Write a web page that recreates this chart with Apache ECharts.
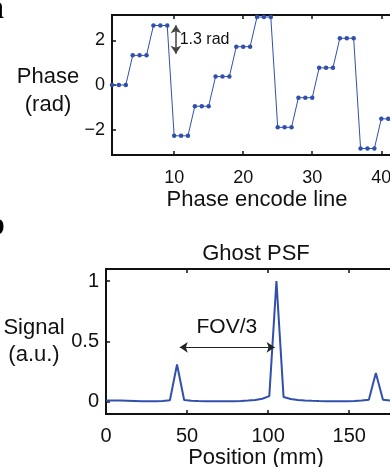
<!DOCTYPE html>
<html>
<head>
<meta charset="utf-8">
<script src="https://cdn.jsdelivr.net/npm/echarts@6/dist/echarts.min.js"></script>
<style>
  html, body { margin: 0; padding: 0; background: #fff; overflow: hidden; }
  #chart { width: 390px; height: 467px; }
</style>
</head>
<body>
<div id="chart"></div>
<script>
// panel a: phase per phase-encode line (3 lines per step, wrapped)
const lineNumbers = [
  1, 2, 3, 4, 5, 6, 7, 8, 9, 10, 11, 12, 13, 14, 15, 16, 17, 18, 19, 20, 21, 22,
  23, 24, 25, 26, 27, 28, 29, 30, 31, 32, 33, 34, 35, 36, 37, 38, 39, 40, 41, 42, 43
];
const phaseValues = [
  0, 0, 0, 1.33, 1.33, 1.33, 2.67, 2.67, 2.67, -2.28, -2.28, -2.28,
  -0.95, -0.95, -0.95, 0.38, 0.38, 0.38, 1.72, 1.72, 1.72, 3.05, 3.05, 3.05,
  -1.9, -1.9, -1.9, -0.57, -0.57, -0.57, 0.77, 0.77, 0.77, 2.1, 2.1, 2.1,
  -2.85, -2.85, -2.85, -1.52, -1.52, -1.52, -0.18
];
const phaseTicksX = [10, 20, 30, 40];
const phaseTicksY = [-2, 0, 2];

// panel b: ghost point spread function
const positions = [
  0, 4.4, 8.8, 13.1, 17.5, 21.9, 26.3, 30.7, 35.0, 39.4, 43.8, 48.2, 52.6, 56.9,
  61.3, 65.7, 70.1, 74.5, 78.8, 83.2, 87.6, 92.0, 96.4, 100.7, 105.1, 109.5,
  113.9, 118.3, 122.6, 127.0, 131.4, 135.8, 140.2, 144.5, 148.9, 153.3, 157.7,
  162.1, 166.4, 170.8, 175.2, 179.6, 184.0
];
const signal = [
  0.012, 0.012, 0.011, 0.01, 0.008, 0.006, 0.005, 0.006, 0.008, 0.014, 0.31,
  0.016, 0.01, 0.008, 0.006, 0.005, 0.005, 0.005, 0.006, 0.008, 0.011, 0.016,
  0.026, 0.048, 1.0, 0.04, 0.024, 0.016, 0.012, 0.009, 0.007, 0.006, 0.005,
  0.005, 0.006, 0.008, 0.012, 0.018, 0.24, 0.018, 0.012, 0.01, 0.01
];
const psfTicksX = [0, 50, 100, 150];
const psfTicksY = [0, 0.5, 1];

const FONT = "Liberation Sans";
const BLUE = "#3150ad";
const fmt = (v) => String(v).replace("-", "\u2212");

const chart = echarts.init(document.getElementById("chart"), null, { renderer: "canvas" });

function bottomAxis(gridIndex, min, max, ticks, fontSize, name, margin, nameGap) {
  return {
    gridIndex,
    type: "value",
    position: "bottom",
    min,
    max,
    name,
    nameLocation: "middle",
    nameGap,
    nameTextStyle: { fontFamily: FONT, fontSize: 22, color: "#111" },
    axisLine: { onZero: false, lineStyle: { color: "#111", width: 2 } },
    axisTick: { inside: true, length: 4, customValues: ticks, lineStyle: { color: "#111", width: 1.5 } },
    axisLabel: { customValues: ticks, margin, fontFamily: FONT, fontSize, color: "#111", formatter: fmt },
    splitLine: { show: false },
  };
}

function topAxis(gridIndex, min, max, ticks) {
  return {
    gridIndex,
    type: "value",
    position: "top",
    min,
    max,
    axisLine: { show: false, onZero: false },
    axisTick: { inside: true, length: 4, customValues: ticks, lineStyle: { color: "#111", width: 1.5 } },
    axisLabel: { show: false },
    splitLine: { show: false },
  };
}

function leftAxis(gridIndex, min, max, ticks, fontSize, name, nameGap) {
  return {
    gridIndex,
    type: "value",
    min,
    max,
    name,
    nameLocation: "middle",
    nameRotate: 0,
    nameGap,
    nameTextStyle: {
      fontFamily: FONT, fontSize: 22, color: "#111", align: "center",
      verticalAlign: "middle", lineHeight: 27,
    },
    axisLine: { show: true, onZero: false, lineStyle: { color: "#111", width: 2 } },
    axisTick: { show: true, inside: true, length: 4, customValues: ticks, lineStyle: { color: "#111", width: 1.5 } },
    axisLabel: { customValues: ticks, margin: 7, fontFamily: FONT, fontSize, color: "#111", formatter: fmt },
    splitLine: { show: false },
  };
}

const option = {
  animation: false,
  backgroundColor: "#fff",
  grid: [
    { left: 112, top: 15, width: 290, height: 140, outerBoundsMode: "none", show: true, borderColor: "#111", borderWidth: 2 },
    { left: 106, top: 269, width: 300, height: 145, outerBoundsMode: "none", show: true, borderColor: "#111", borderWidth: 2 },
  ],
  xAxis: [
    bottomAxis(0, 1, 43, phaseTicksX, 18, "Phase encode line", 14, 34),
    topAxis(0, 1, 43, phaseTicksX),
    bottomAxis(1, 0, 185, psfTicksX, 20, "Position (mm)", 12, 33),
    topAxis(1, 0, 185, psfTicksX),
  ],
  yAxis: [
    leftAxis(0, -Math.PI, Math.PI, phaseTicksY, 18, "", 64),
    leftAxis(1, -0.1, 1.1, psfTicksY, 20, "Signal\n(a.u.)", 72),
  ],
  series: [
    {
      type: "line",
      xAxisIndex: 0,
      yAxisIndex: 0,
      data: lineNumbers.map((x, i) => [x, phaseValues[i]]),
      symbol: "circle",
      symbolSize: 4.5,
      showSymbol: true,
      itemStyle: { color: BLUE },
      lineStyle: { color: BLUE, width: 1 },
      markLine: {
        silent: true,
        symbol: ["arrow", "arrow"],
        symbolSize: 8,
        label: { show: false },
        lineStyle: { color: "#444", type: "solid", width: 1.5 },
        data: [[{ coord: [10.25, 2.68] }, { coord: [10.25, 1.4] }]],
      },
      markPoint: {
        silent: true,
        symbolSize: 0,
        label: { show: true, position: "right", distance: 0, formatter: "1.3 rad", fontFamily: FONT, fontSize: 16, color: "#111" },
        data: [{ coord: [10.8, 2.02] }],
      },
    },
    {
      type: "line",
      xAxisIndex: 2,
      yAxisIndex: 1,
      data: positions.map((x, i) => [x, signal[i]]),
      showSymbol: false,
      lineStyle: { color: BLUE, width: 2 },
      markLine: {
        silent: true,
        symbol: ["arrow", "arrow"],
        symbolSize: 8,
        label: { show: false },
        lineStyle: { color: "#222", type: "solid", width: 1 },
        data: [[{ coord: [45.5, 0.452] }, { coord: [104, 0.452] }]],
      },
      markPoint: {
        silent: true,
        symbolSize: 0,
        label: { show: true, position: "inside", formatter: "FOV/3", fontFamily: FONT, fontSize: 21, color: "#111" },
        data: [{ coord: [74.5, 0.615] }],
      },
    },
  ],
  graphic: [
    { type: "text", x: 48, y: 91, style: { text: "Phase\n(rad)", font: "22px 'Liberation Sans'", lineHeight: 28, fill: "#111", textAlign: "center", textVerticalAlign: "middle" } },
    { type: "text", x: 256, y: 243, style: { text: "Ghost PSF", font: "22px 'Liberation Sans'", fill: "#111", textAlign: "center" } },
    { type: "text", x: -13, y: 26, style: { text: "a", font: "bold 34px 'Liberation Serif'", fill: "#000", textVerticalAlign: "bottom" } },
    { type: "text", x: -14, y: 243, style: { text: "b", font: "bold 34px 'Liberation Serif'", fill: "#000", textVerticalAlign: "bottom" } },
  ],
};

chart.setOption(option);
</script>
</body>
</html>
